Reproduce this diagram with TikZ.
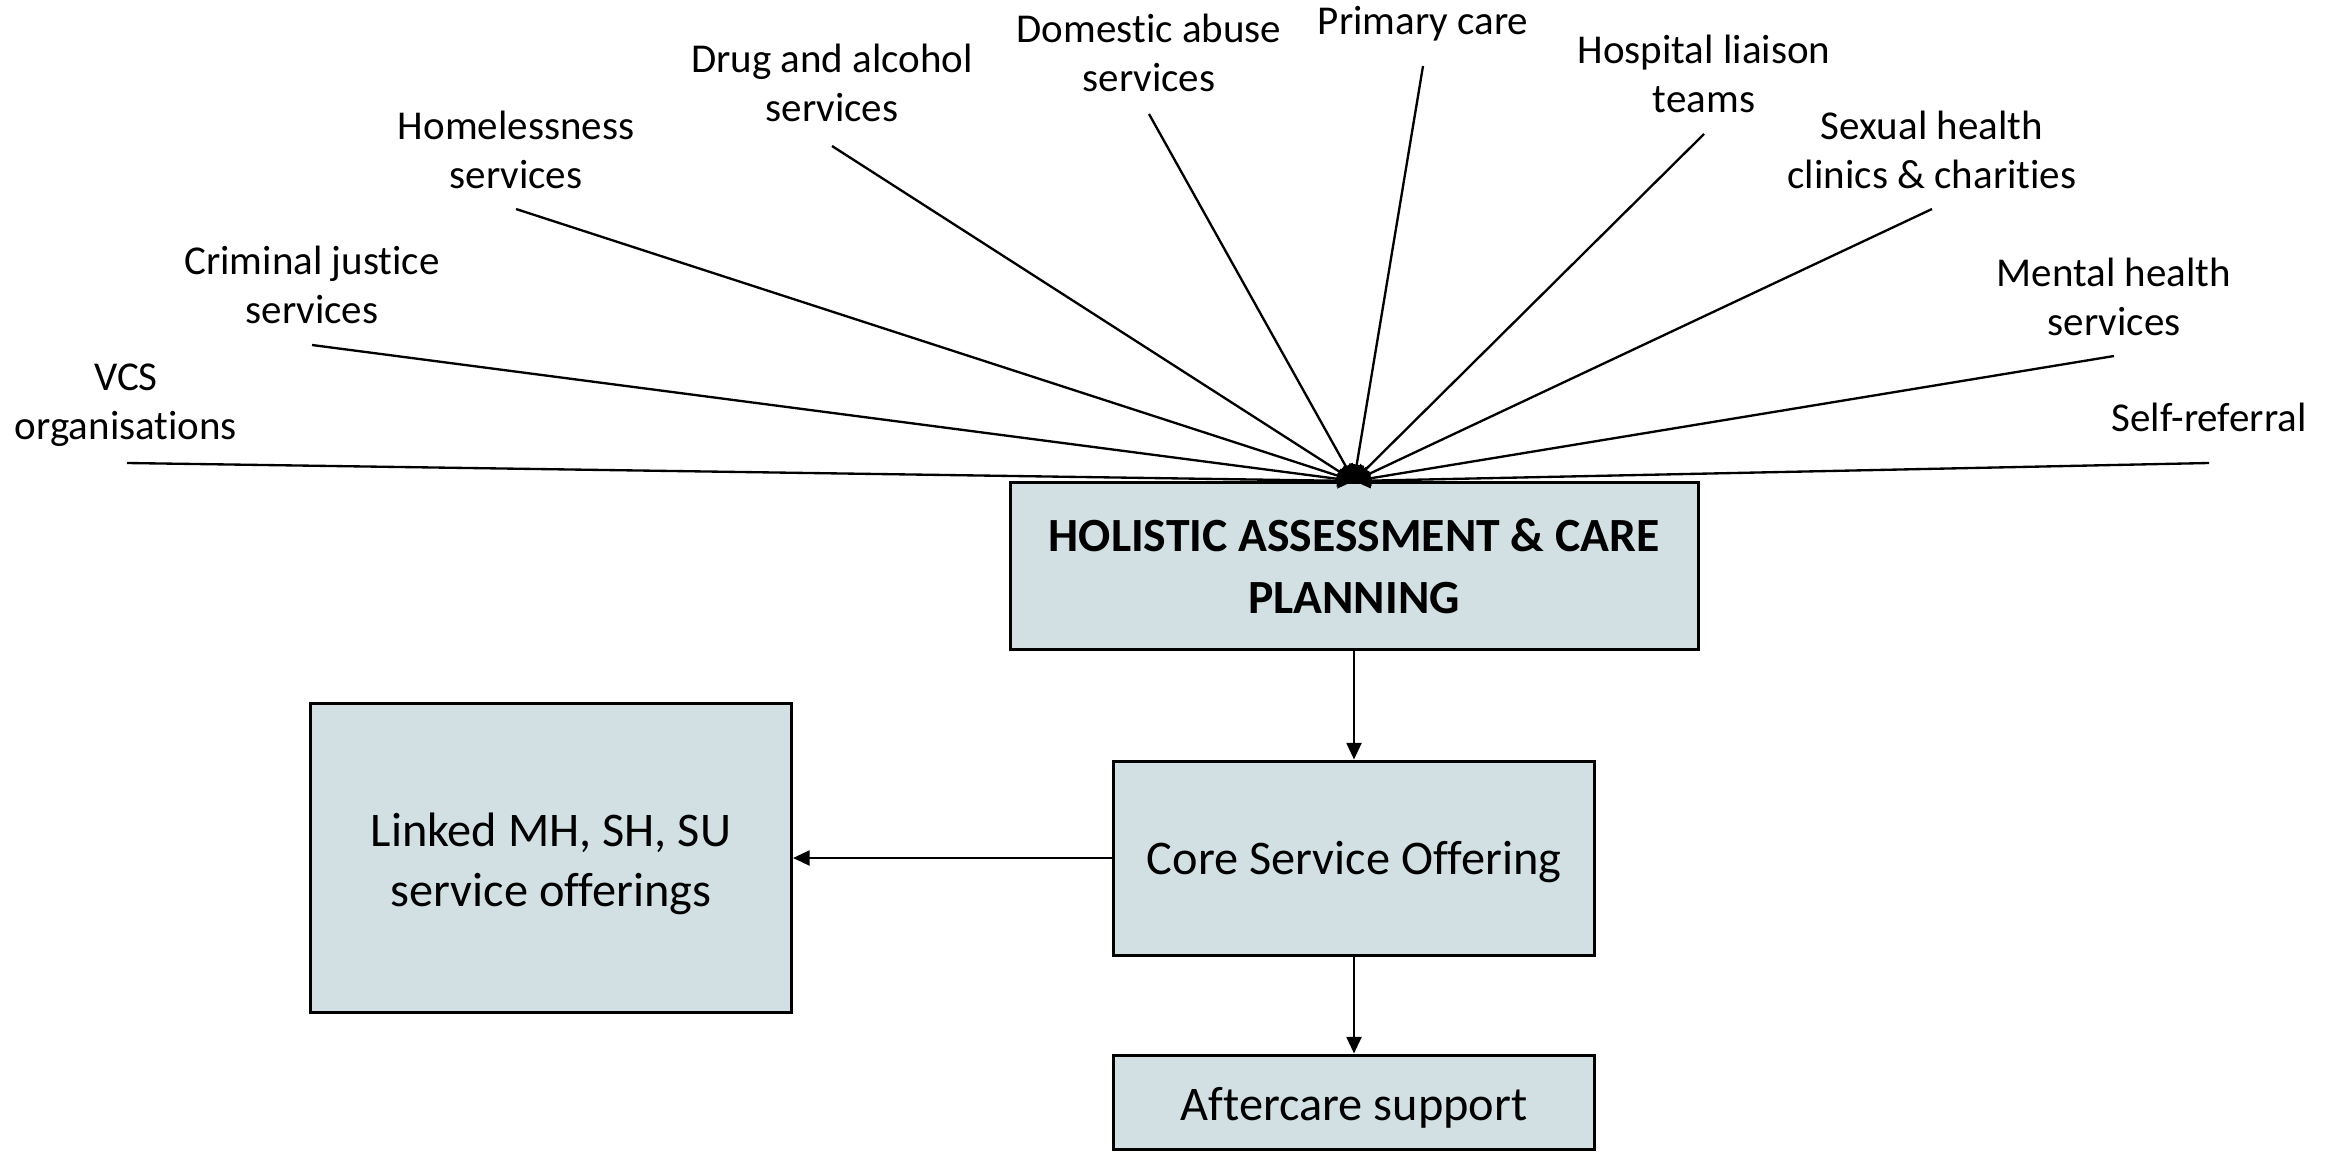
\documentclass[tikz,border=0pt]{standalone}
\usepackage{fontspec}
\setmainfont[RawFeature=-liga]{Carlito}
\usetikzlibrary{arrows.meta}
\definecolor{boxfill}{RGB}{210,224,227}
% box text, lowered a little while keeping its natural size for centring
\newcommand{\boxtext}[2]{\raisebox{#1}[\height][\depth]{\begin{tabular}{@{}c@{}}#2\end{tabular}}}
\begin{document}
\begin{tikzpicture}[x=0.3pt,y=-0.3pt,
  box/.style={draw=black, line width=0.9pt, fill=boxfill, inner sep=0pt,
              font=\fontsize{14.5}{18}\selectfont},
  src/.style={align=center, inner sep=0pt, font=\fontsize{12.3}{14.6}\selectfont},
  feed/.style={line width=0.7pt, -{Triangle[length=5pt,width=4.5pt]}},
  flow/.style={line width=0.7pt, -{Triangle[length=5pt,width=4.5pt]}}]
\useasboundingbox (0,0) rectangle (2343,1153);

% main process boxes
\node[box, minimum width=206.4pt, minimum height=50.1pt, font=\fontsize{14.3}{18.5}\selectfont\bfseries]
  (assess) at (1354,566) {\boxtext{-1.2pt}{HOLISTIC ASSESSMENT \& CARE\\PLANNING}};
\node[box, minimum width=144.3pt, minimum height=58.2pt] (core) at (1354,858) {\boxtext{-1.4pt}{Core Service Offering}};
\node[box, minimum width=144.3pt, minimum height=28.2pt] (after) at (1354,1102) {\boxtext{-1.8pt}{Aftercare support}};
\node[box, minimum width=144.3pt, minimum height=92.7pt] (linked) at (551,858) {\boxtext{-1.8pt}{Linked MH, SH, SU\\service offerings}};

% referral sources
\node[src] (vcs)  at (126,405)  {VCS\\organisations};
\node[src] (cjs)  at (312,285)  {Criminal justice\\services};
\node[src] (home) at (516,150)  {Homelessness\\services};
\node[src] (drug) at (832,83)   {Drug and alcohol\\services};
\node[src] (dom)  at (1149,53)  {Domestic abuse\\services};
\node[src] (prim) at (1423,24)  {Primary care};
\node[src] (hosp) at (1704,74)  {Hospital liaison\\teams};
\node[src] (sex)  at (1932,150) {Sexual health\\clinics \& charities};
\node[src] (ment) at (2114,297) {Mental health\\services};
\node[src] (self) at (2209,417) {Self-referral};

% start points of the referral lines
\coordinate (vcs-p)  at (127,463);
\coordinate (cjs-p)  at (312,345);
\coordinate (home-p) at (516,209);
\coordinate (drug-p) at (832,146);
\coordinate (dom-p)  at (1149,114);
\coordinate (prim-p) at (1423,66);
\coordinate (hosp-p) at (1704,134);
\coordinate (sex-p)  at (1932,209);
\coordinate (ment-p) at (2114,356);
\coordinate (self-p) at (2209,463);

\foreach \s in {vcs,cjs,home,drug,dom,prim,hosp,sex,ment,self}
  \draw[feed] (\s-p) -- (assess.north);

% flow between the boxes
\draw[flow] (assess.south) -- (core.north);
\draw[flow] (core.south) -- (after.north);
\draw[flow] (core.west) -- (linked.east);
\end{tikzpicture}
\end{document}
